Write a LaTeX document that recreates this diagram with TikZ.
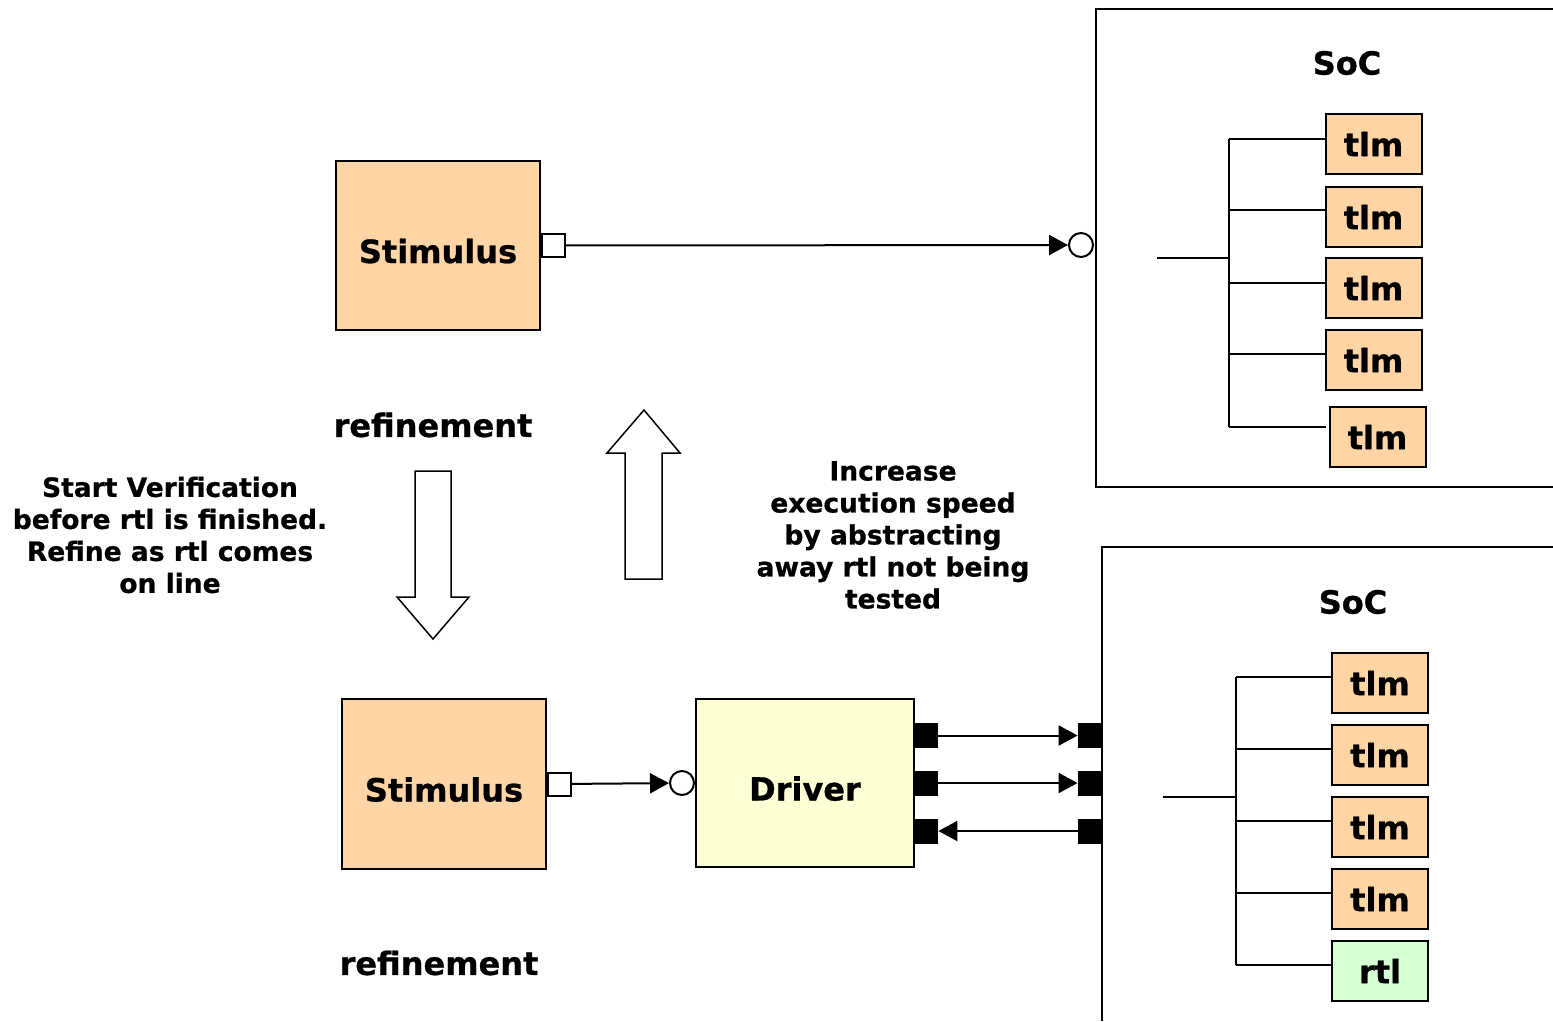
\documentclass[tikz,border=0pt]{standalone}
\usepackage{fontspec}
\setmainfont{DejaVu Sans}[BoldFeatures={FakeBold=0.8}]
\usetikzlibrary{arrows.meta}

\definecolor{peach}{HTML}{FFD5A5}
\definecolor{cream}{HTML}{FFFFD5}
\definecolor{mint}{HTML}{D5FFD5}

\tikzset{bb/.style={draw, line width=2pt, inner sep=0pt, font=\fontsize{32}{38}\selectfont\bfseries}}
\tikzset{mb/.style={bb, fill=peach, minimum width=96pt, minimum height=60pt}}
\tikzset{port/.style={draw, line width=2pt, fill=white, minimum size=23pt, inner sep=0pt}}
\tikzset{pin/.style={fill=black, minimum width=24pt, minimum height=25pt, inner sep=0pt}}
\tikzset{sock/.style={draw, circle, line width=2pt, fill=white, minimum size=24pt, inner sep=0pt}}
\tikzset{title/.style={font=\fontsize{32}{38}\selectfont\bfseries}}
\tikzset{note/.style={align=center, font=\fontsize{26.5}{32}\selectfont\bfseries}}
\tikzset{wire/.style={line width=2pt}}
\tikzset{link/.style={wire, -{Triangle[length=19pt, width=20pt]}}}

\begin{document}
\begin{tikzpicture}[x=1pt, y=-1pt]
    \useasboundingbox (0,0) rectangle (1553,1021);

    \node[bb, fill=peach, minimum width=204pt, minimum height=169pt, text height=35pt, text depth=0pt] (stim) at (438,245.5) {Stimulus};
    \node[port, anchor=west] (stimport) at (stim.east) {};
    \node[sock] (socin) at (1081,245) {};

    \draw[link] (stimport) -- (socin);

    \draw[wire] (1553,9) -| (1096,487) -- (1553,487);
    \node[title] (soc) at (1347,63) {SoC};

    \node[mb] (t1) at (1373.5,144) {tlm};
    \node[mb] (t2) at (1373.5,217) {tlm};
    \node[mb] (t3) at (1373.5,288) {tlm};
    \node[mb] (t4) at (1373.5,360) {tlm};
    \node[mb] (t5) at (1377.5,437) {tlm};

    \coordinate (bus) at (1157,258);
    \draw[wire] (bus) -- (1229,258);
    \draw[wire] (1229,139) -- (1229,427);
    \foreach \n/\dy in {t1/5, t2/7, t3/5, t4/6} {
        \draw[wire] ([yshift=\dy pt]\n.west -| 1229,0) -- ([yshift=\dy pt]\n.west);
    }
    \draw[wire] (1229,427) -- ([xshift=-3pt, yshift=10pt]t5.west);

    \node[title] (ref1) at (433,425) {refinement};

    \draw[line width=1.5pt] (415,471) -- (451,471) -- (451,597) -- (469,597) -- (433,639) -- (397,597) -- (415,597) -- cycle;
    \draw[line width=1.5pt] (625,579) -- (662,579) -- (662,453) -- (680,453) -- (644,410) -- (607,453) -- (625,453) -- cycle;

    \node[note] (start) at (170,535) {Start Verification\\before rtl is finished.\\Refine as rtl comes\\on line};
    \node[note] (speed) at (893,535) {Increase\\execution speed\\by abstracting\\away rtl not being\\tested};

    \node[bb, fill=peach, minimum width=204pt, minimum height=170pt, text height=35pt, text depth=0pt] (stim2) at (444,784) {Stimulus};
    \node[port, anchor=west] (stim2port) at (stim2.east) {};
    \node[sock] (drvin) at (682,783) {};
    \node[bb, fill=cream, minimum width=218pt, minimum height=168pt, text height=35pt, text depth=0pt] (drv) at (805,783) {Driver};

    \draw[link] (stim2port) -- (drvin);

    \draw[wire] (1553,547) -| (1102,1021);
    \node[title] (soc2) at (1353,602) {SoC};

    \node[pin, anchor=west] (dp1) at (914,735.5) {};
    \node[pin, anchor=west] (dp2) at (914,783) {};
    \node[pin, anchor=west] (dp3) at (914,831) {};
    \node[pin, anchor=east] (sp1) at (1102,735.5) {};
    \node[pin, anchor=east] (sp2) at (1102,783) {};
    \node[pin, anchor=east] (sp3) at (1102,831) {};

    \draw[link] (dp1) -- (sp1);
    \draw[link] (dp2) -- (sp2);
    \draw[link] (sp3) -- (dp3);

    \node[mb] (u1) at (1380,683) {tlm};
    \node[mb] (u2) at (1380,755) {tlm};
    \node[mb] (u3) at (1380,827) {tlm};
    \node[mb] (u4) at (1380,899) {tlm};
    \node[mb, fill=mint] (u5) at (1380,971) {rtl};

    \coordinate (bus2) at (1163,797);
    \draw[wire] (bus2) -- (1236,797);
    \draw[wire] (1236,677) -- (1236,965);
    \foreach \n in {u1, u2, u3, u4, u5} {
        \draw[wire] ([yshift=6pt]\n.west -| 1236,0) -- ([yshift=6pt]\n.west);
    }

    \node[title] (ref2) at (439,963) {refinement};

\end{tikzpicture}
\end{document}
